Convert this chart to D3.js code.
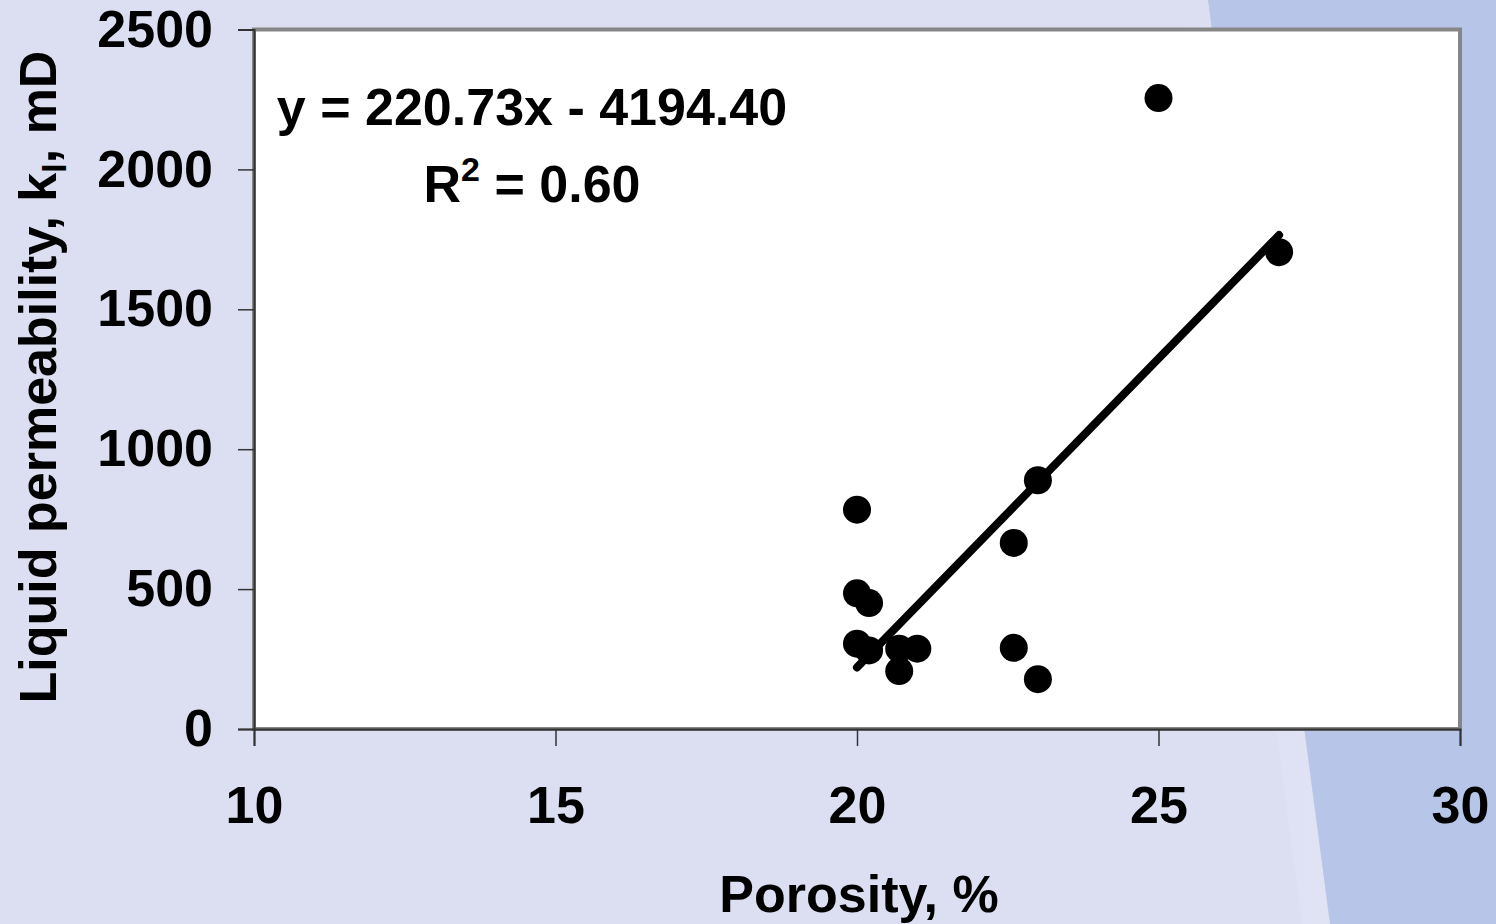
<!DOCTYPE html>
<html>
<head>
<meta charset="utf-8">
<script src="https://cdn.jsdelivr.net/npm/d3@7"></script>
<style>
  body { margin: 0; padding: 0; overflow: hidden; }
  svg text { font-family: "Liberation Sans", Arial, sans-serif; font-weight: bold; fill: #000; }
</style>
</head>
<body>
<div id="chart"></div>
<script>
// Données
var porosity = [20.0, 20.0, 20.2, 20.0, 20.2, 20.7, 21.0, 20.7, 22.6, 22.6, 23.0, 23.0, 25.0, 27.0];
var permeability = [784, 485, 450, 305, 281, 287, 287, 207, 665, 290, 889, 178, 2255, 1704];

var xTicks = [10, 15, 20, 25, 30];
var yTicks = [0, 500, 1000, 1500, 2000, 2500];

// Droite de tendance (équation affichée)
var slope = 220.73,
    intercept = -4194.40;
var eqLabel = "y = 220.73x - 4194.40";
var r2Value = "0.60";

var width = 1496,
    height = 924;

var svg = d3
    .select("#chart")
    .append("svg")
    .attr("width", width)
    .attr("height", height);

/** Fond */
svg.append("rect")
    .attr("width", width)
    .attr("height", height)
    .attr("fill", "#dcdff2");

var defs = svg.append("defs");
var grad = defs.append("linearGradient")
    .attr("id", "edge")
    .attr("x1", "0").attr("x2", "1").attr("y1", "0").attr("y2", "0");
grad.append("stop").attr("offset", "0").attr("stop-color", "#dcdff2");
grad.append("stop").attr("offset", "1").attr("stop-color", "#e0e3f4");

svg.append("polygon")
    .attr("points", "1180,0 1208,0 1330,924 1302,924")
    .attr("fill", "url(#edge)");
svg.append("polygon")
    .attr("points", "1208,0 1496,0 1496,924 1330,924")
    .attr("fill", "#b6c5e8");

/** Échelles */
var x = d3.scaleLinear().domain([10, 30]).range([254, 1460]);
var y = d3.scaleLinear().domain([0, 2500]).range([729, 29.5]);

// zone de tracé
svg.append("rect")
    .attr("x", 254)
    .attr("y", 29.5)
    .attr("width", 1206)
    .attr("height", 699.5)
    .attr("fill", "#ffffff")
    .attr("stroke", "#868686")
    .attr("stroke-width", 4);

// axes
var xAxis = svg.append("g")
    .attr("transform", "translate(0,729)")
    .call(d3.axisBottom(x).tickValues(xTicks).tickSize(17).tickPadding(40).tickFormat(d3.format("d")));
var yAxis = svg.append("g")
    .attr("transform", "translate(254,0)")
    .call(d3.axisLeft(y).tickValues(yTicks).tickSize(16).tickPadding(25).tickFormat(d3.format("d")));

[xAxis, yAxis].forEach(function (a) {
    a.select(".domain").attr("stroke", "#333").attr("stroke-width", 2);
    a.selectAll(".tick line").attr("stroke", "#333").attr("stroke-width", 1.5);
    a.selectAll(".tick text")
        .style("font-size", "52px")
        .style("font-family", "Liberation Sans, Arial, sans-serif")
        .style("font-weight", "bold")
        .attr("fill", "#000");
});
xAxis.selectAll(".tick text").attr("dy", "0.71em");

/** Points */
var points = porosity.map(function (p, i) {
    return { x: p, y: permeability[i] };
});

svg.append("g")
    .selectAll("circle")
    .data(points)
    .enter()
    .append("circle")
    .attr("cx", function (d) { return x(d.x); })
    .attr("cy", function (d) { return y(d.y); })
    .attr("r", 14)
    .attr("fill", "#000");

/** Droite de régression */
var xMin = d3.min(porosity),
    xMax = d3.max(porosity);
svg.append("line")
    .attr("x1", x(xMin))
    .attr("y1", y(slope * xMin + intercept))
    .attr("x2", x(xMax))
    .attr("y2", y(slope * xMax + intercept))
    .attr("stroke", "#000")
    .attr("stroke-width", 8)
    .attr("stroke-linecap", "round");

/** Équation */
svg.append("text")
    .attr("x", 532)
    .attr("y", 125)
    .attr("text-anchor", "middle")
    .style("font-size", "52px")
    .text(eqLabel);

var r2 = svg.append("text")
    .attr("x", 532)
    .attr("y", 202)
    .attr("text-anchor", "middle")
    .style("font-size", "52px");
r2.append("tspan").text("R");
r2.append("tspan").attr("dy", -21).style("font-size", "34px").text("2");
r2.append("tspan").attr("dy", 21).text(" = " + r2Value);

/** Titres des axes */
svg.append("text")
    .attr("x", 859)
    .attr("y", 912)
    .attr("text-anchor", "middle")
    .style("font-size", "52px")
    .text("Porosity, %");

var yTitle = svg.append("text")
    .attr("transform", "translate(56,377) rotate(-90)")
    .attr("text-anchor", "middle")
    .style("font-size", "52px");
yTitle.append("tspan").text("Liquid permeability, k");
yTitle.append("tspan").attr("dy", 10).style("font-size", "34px").text("l");
yTitle.append("tspan").attr("dy", -10).text(", mD");
</script>
</body>
</html>
